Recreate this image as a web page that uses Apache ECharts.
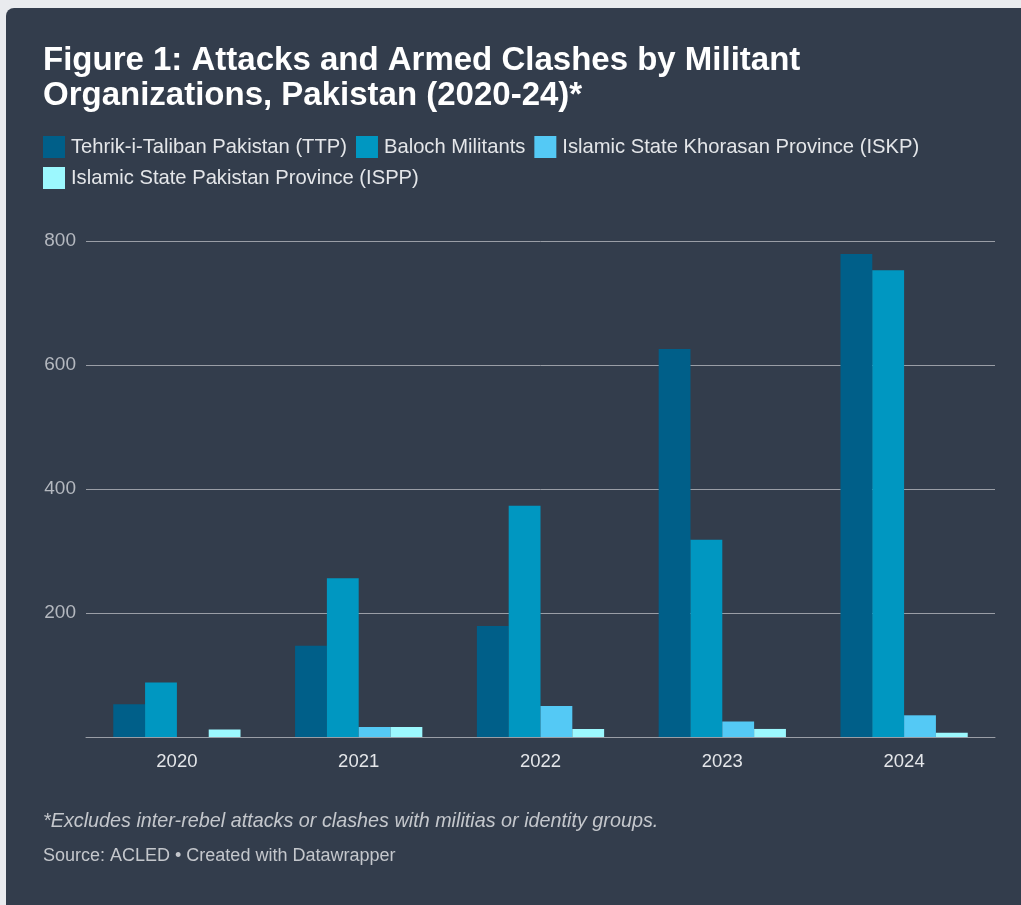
<!DOCTYPE html>
<html>
<head>
<meta charset="utf-8">
<script src="https://cdn.jsdelivr.net/npm/echarts@6/dist/echarts.min.js"></script>
<style>
  html, body { margin: 0; padding: 0; background: #e9ebee; width: 1021px; height: 905px; overflow: hidden; }
  #panel { position: absolute; left: 6px; top: 8px; width: 1015px; height: 897px; background: #333d4c; border-top-left-radius: 8px; overflow: hidden; }
  #chart { width: 1015px; height: 897px; }
</style>
</head>
<body>
<div id="panel"><div id="chart"></div></div>
<script>
const categories = ['2020', '2021', '2022', '2023', '2024'];
const seriesNames = ['Tehrik-i-Taliban Pakistan (TTP)', 'Baloch Militants', 'Islamic State Khorasan Province (ISKP)', 'Islamic State Pakistan Province (ISPP)'];
const ttp = [53, 147, 179, 626, 779];
const baloch = [88, 256, 373, 318, 753];
const iskp = [0, 16, 50, 25, 35];
const ispp = [12, 16, 13, 13, 7];
const yTicks = [0, 200, 400, 600, 800];
const colors = ['#005f89', '#0097c1', '#54c9f5', '#9cf8fe'];

const font = '"Liberation Sans", Arial, Helvetica, sans-serif';
const chart = echarts.init(document.getElementById('chart'));
const values = [ttp, baloch, iskp, ispp];

chart.setOption({
  backgroundColor: 'transparent',
  textStyle: { fontFamily: font },
  title: [
    {
      text: 'Figure 1: Attacks and Armed Clashes by Militant\nOrganizations, Pakistan (2020-24)*',
      left: 32, top: 30,
      textStyle: { color: '#ffffff', fontSize: 33, fontWeight: 'bold', lineHeight: 35, fontFamily: font }
    },
    {
      text: '*Excludes inter-rebel attacks or clashes with militias or identity groups.',
      left: 32, top: 798,
      textStyle: { color: '#c4c7cc', fontSize: 19.8, fontStyle: 'italic', fontWeight: 'normal', fontFamily: font }
    },
    {
      text: 'Source: ACLED \u2022 Created with Datawrapper',
      left: 32, top: 834,
      textStyle: { color: '#c4c7cc', fontSize: 18, fontWeight: 'normal', fontFamily: font }
    }
  ],
  legend: {
    left: 32, top: 123, width: 940,
    itemWidth: 22, itemHeight: 22, itemGap: 9,
    icon: 'rect',
    data: seriesNames,
    textStyle: { color: '#e4e6e9', fontSize: 20.2, fontFamily: font, padding: [0, 0, 0, 1] }
  },
  grid: { left: 80, right: 26, top: 233, bottom: 168, containLabel: false },
  xAxis: {
    type: 'category',
    data: categories,
    axisLine: { lineStyle: { color: '#9a9ea6', width: 1 } },
    axisTick: { alignWithLabel: true, length: 6, lineStyle: { color: '#e0e0e0' } },
    axisLabel: { color: '#e4e6e9', fontSize: 18.5, margin: 15, fontFamily: font }
  },
  yAxis: {
    type: 'value',
    min: yTicks[0], max: yTicks[yTicks.length - 1], interval: 200,
    axisLine: { show: false },
    axisTick: { show: false },
    splitLine: { lineStyle: { color: '#9a9ea6', width: 1 } },
    axisLabel: {
      color: '#b4b8bf', fontSize: 19, margin: 10, fontFamily: font,
      formatter: v => (v === 0 ? '' : String(v))
    }
  },
  series: seriesNames.map((name, i) => ({
    name: name,
    type: 'bar',
    data: values[i],
    itemStyle: { color: colors[i] },
    barGap: '0%',
    barCategoryGap: '30%',
    emphasis: { disabled: true }
  })),
  animation: false
});
</script>
</body>
</html>
